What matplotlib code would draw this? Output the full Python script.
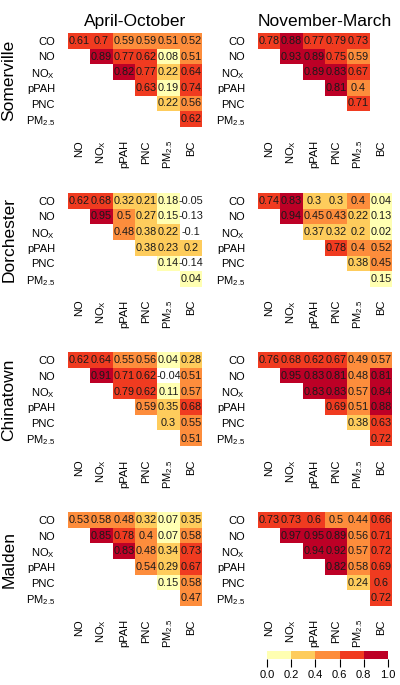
import numpy as np
import matplotlib
matplotlib.use('Agg')
import matplotlib.pyplot as plt
from matplotlib.colors import ListedColormap, BoundaryNorm
from matplotlib.cm import ScalarMappable

plt.rcParams['font.family'] = ['Liberation Sans', 'DejaVu Sans']
plt.rcParams['mathtext.fontset'] = 'custom'
plt.rcParams['mathtext.rm'] = 'Liberation Sans'
plt.rcParams['mathtext.it'] = 'Liberation Sans:italic'

row_labels = ['CO', 'NO', r'NO$_\mathrm{X}$', 'pPAH', 'PNC', r'PM$_{2.5}$']
col_labels = ['NO', r'NO$_\mathrm{X}$', 'pPAH', 'PNC', r'PM$_{2.5}$', 'BC']
sites = ['Somerville', 'Dorchester', 'Chinatown', 'Malden']
seasons = ['April-October', 'November-March']
nan = np.nan

# Upper-triangular correlation rows (row i starts at column i)
somerville_apr_oct = [[0.61, 0.7, 0.59, 0.59, 0.51, 0.52],
                      [0.89, 0.77, 0.62, 0.08, 0.51],
                      [0.82, 0.77, 0.22, 0.64],
                      [0.63, 0.19, 0.74],
                      [0.22, 0.56],
                      [0.62]]
somerville_nov_mar = [[0.78, 0.88, 0.77, 0.79, 0.73, nan],
                      [0.93, 0.89, 0.75, 0.59, nan],
                      [0.89, 0.83, 0.67, nan],
                      [0.81, 0.4, nan],
                      [0.71, nan],
                      [nan]]
dorchester_apr_oct = [[0.62, 0.68, 0.32, 0.21, 0.18, -0.05],
                      [0.95, 0.5, 0.27, 0.15, -0.13],
                      [0.48, 0.38, 0.22, -0.1],
                      [0.38, 0.23, 0.2],
                      [0.14, -0.14],
                      [0.04]]
dorchester_nov_mar = [[0.74, 0.83, 0.3, 0.3, 0.4, 0.04],
                      [0.94, 0.45, 0.43, 0.22, 0.13],
                      [0.37, 0.32, 0.2, 0.02],
                      [0.78, 0.4, 0.52],
                      [0.38, 0.45],
                      [0.15]]
chinatown_apr_oct = [[0.62, 0.64, 0.55, 0.56, 0.04, 0.28],
                     [0.91, 0.71, 0.62, -0.04, 0.51],
                     [0.79, 0.62, 0.11, 0.57],
                     [0.59, 0.35, 0.68],
                     [0.3, 0.55],
                     [0.51]]
chinatown_nov_mar = [[0.76, 0.68, 0.62, 0.67, 0.49, 0.57],
                     [0.95, 0.83, 0.81, 0.48, 0.81],
                     [0.83, 0.83, 0.57, 0.84],
                     [0.69, 0.51, 0.88],
                     [0.38, 0.63],
                     [0.72]]
malden_apr_oct = [[0.53, 0.58, 0.48, 0.32, 0.07, 0.35],
                  [0.85, 0.78, 0.4, 0.07, 0.58],
                  [0.83, 0.48, 0.34, 0.73],
                  [0.54, 0.29, 0.67],
                  [0.15, 0.58],
                  [0.47]]
malden_nov_mar = [[0.73, 0.73, 0.6, 0.5, 0.44, 0.66],
                  [0.97, 0.95, 0.89, 0.56, 0.71],
                  [0.94, 0.92, 0.57, 0.72],
                  [0.82, 0.58, 0.69],
                  [0.24, 0.6],
                  [0.72]]

panels = [[somerville_apr_oct, somerville_nov_mar],
          [dorchester_apr_oct, dorchester_nov_mar],
          [chinatown_apr_oct, chinatown_nov_mar],
          [malden_apr_oct, malden_nov_mar]]

bounds = [0.0, 0.2, 0.4, 0.6, 0.8, 1.0]
colors = ['#FFFFB2', '#FECC5C', '#FD8D3C', '#F03B20', '#BD0026']
cmap = ListedColormap(colors)
cmap.set_under('white')
cmap.set_bad('white')
norm = BoundaryNorm(bounds, cmap.N)

W, H = 400, 685
fig = plt.figure(figsize=(W / 100, H / 100), dpi=100)

def to_matrix(rows):
    n = len(rows)
    m = np.full((n, n), np.nan)
    for i, r in enumerate(rows):
        for k, v in enumerate(r):
            m[i, i + k] = v
    return m

left_px = [68, 258]
panel_w = 134
panel_h = 94
top0 = 33
step = 159.7

for si, site in enumerate(sites):
    top = top0 + si * step
    for ci in range(2):
        rect = [left_px[ci] / W, 1 - (top + panel_h) / H, panel_w / W, panel_h / H]
        ax = fig.add_axes(rect)
        m = to_matrix(panels[si][ci])
        ax.imshow(np.ma.masked_invalid(m), cmap=cmap, norm=norm, aspect='auto',
                  interpolation='nearest')
        for i in range(6):
            for j in range(6):
                v = m[i, j]
                if not np.isnan(v):
                    ax.text(j, i, f'{v:g}', ha='center', va='center',
                            fontsize=7.8, color='#1a1a1a')
        ax.set_xticks(range(6))
        ax.set_yticks(range(6))
        ax.set_xticklabels(col_labels, rotation=90, fontsize=8, va='top')
        ax.set_yticklabels(row_labels, fontsize=8)
        ax.tick_params(length=0, pad=9.4)
        for sp in ax.spines.values():
            sp.set_visible(False)
        if si == 0:
            ax.set_title(seasons[ci], fontsize=12.5, pad=0, y=1 + 7 / panel_h)
    fig.text(9 / W, 1 - (top + panel_h / 2) / H, site, rotation=90,
             ha='center', va='center', fontsize=12.5)

cax = fig.add_axes([267 / W, 1 - 659 / H, 121 / W, 8 / H])
cb = fig.colorbar(ScalarMappable(norm=norm, cmap=cmap), cax=cax,
                  orientation='horizontal', ticks=bounds)
cb.outline.set_visible(False)
cb.ax.set_xticklabels([f'{b:.1f}' for b in bounds], fontsize=8)
cb.ax.tick_params(length=6, width=0.8, pad=2)

fig.savefig('out.png', dpi=100)
